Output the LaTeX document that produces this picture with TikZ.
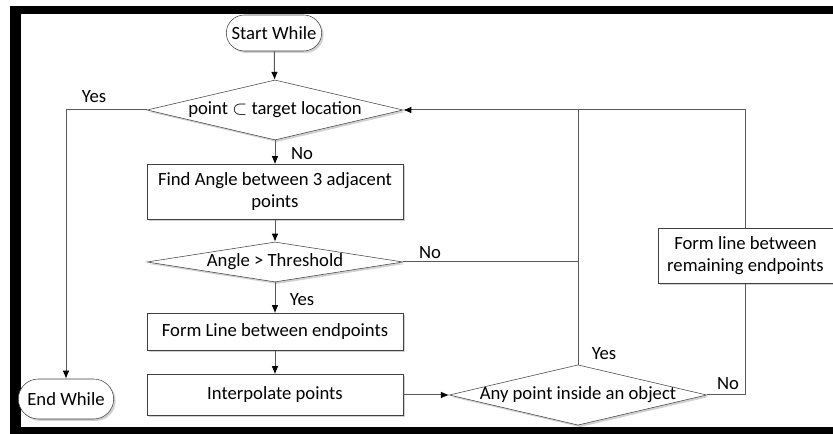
\documentclass[tikz,border=0pt]{standalone}
\usepackage{fontspec}
\setmainfont{Carlito}
\usetikzlibrary{shapes.geometric,shapes.misc,arrows.meta,shadows}
\tikzset{
  shade/.style={drop shadow={shadow xshift=1.5pt, shadow yshift=-1.5pt, fill=black, opacity=0.18}},
  term/.style={rounded rectangle, draw=black!75, fill=white, shade, minimum width=73.5pt, inner sep=1pt},
  proc/.style={rectangle, draw=black!75, fill=white, shade, minimum width=192pt, align=center, inner sep=2pt},
  decide/.style={diamond, draw=black!75, fill=white, shade, minimum width=192pt, inner sep=0pt},
  flow/.style={draw=black!65, line width=0.75pt},
  arr/.style={flow, -{Latex[length=6pt,width=5pt,color=black]}}
}
\begin{document}
\begin{tikzpicture}[x=0.75pt, y=-0.75pt, font=\fontsize{14}{16.5}\selectfont]
\useasboundingbox (0,0) rectangle (833,434);
% frame
\fill[black] (10,6) rectangle (845,440);
\fill[white] (21,14) rectangle (845,427);

% nodes
\node[term, minimum height=27pt] (start) at (274,33) {Start While};
\node[decide, minimum height=45pt, aspect=4.27] (inloc) at (275,110) {point $\subset$ target location};
\node[proc, minimum height=41.25pt] (angle) at (275,192) {Find Angle between 3 adjacent\\points};
\node[decide, minimum height=30pt, aspect=6.4] (thres) at (275,262) {Angle > Threshold};
\node[proc, minimum height=27.75pt] (formln) at (275,332) {Form Line between endpoints};
\node[proc, minimum height=30.75pt] (interp) at (275,395) {Interpolate points};
\node[term, minimum height=30pt] (endw) at (66,399) {End While};
\node[decide, minimum height=45pt, aspect=4.27, inner xsep=-3pt] (inobj) at (578,395) {Any point inside an object};
\node[proc, minimum width=131.25pt, minimum height=41.25pt] (remain) at (745.5,256) {Form line between\\remaining endpoints};
\coordinate (join) at (inobj.north |- inloc.east);

% connectors
\draw[arr] (start) -- (inloc);
\draw[arr] (inloc.west) -| (endw.north);
\node at (94,97) {Yes};
\draw[arr] (inloc) -- (angle);
\node at (302,154) {No};
\draw[arr] (angle) -- (thres);
\draw[arr] (thres) -- (formln);
\node at (302,300) {Yes};
\draw[arr] (formln) -- (interp);
\draw[arr] (interp) -- (inobj);
\draw[flow] (thres.east) -- (thres.east -| join);
\node at (430,253) {No};
\draw[flow] (inobj.north) -- (join);
\node at (604,354) {Yes};
\draw[flow] (inobj.east) -| (remain.south);
\node at (728,384) {No};
\draw[arr] (remain.north) |- (inloc.east);
\end{tikzpicture}
\end{document}
